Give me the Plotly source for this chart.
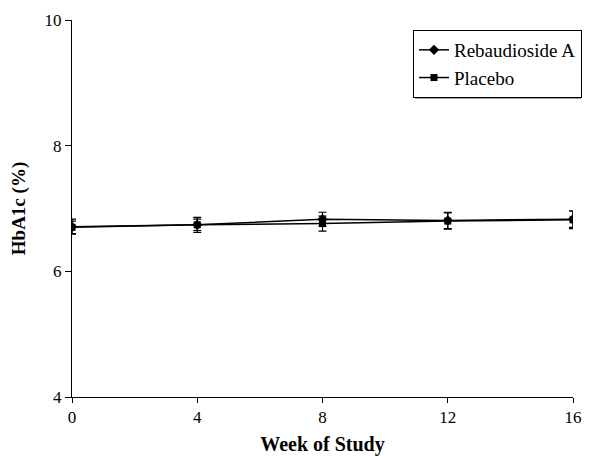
import plotly.graph_objects as go

weeks = [0, 4, 8, 12, 16]
reb_a = [6.71, 6.74, 6.83, 6.81, 6.83]
reb_a_err = [0.12, 0.09, 0.11, 0.13, 0.13]
placebo = [6.70, 6.74, 6.76, 6.80, 6.82]
placebo_err = [0.10, 0.12, 0.12, 0.13, 0.14]

font = "Liberation Serif, Times New Roman, serif"

fig = go.Figure()
fig.add_trace(go.Scatter(
    x=weeks, y=reb_a, name="Rebaudioside A", mode="lines+markers", legendgroup="a",
    line=dict(color="black", width=1.5),
    marker=dict(symbol="diamond", size=8, color="black"),
    error_y=dict(type="data", array=reb_a_err, color="black", thickness=1.2, width=4),
))
fig.add_trace(go.Scatter(
    x=weeks, y=placebo, name="Placebo", mode="lines+markers", legendgroup="b",
    line=dict(color="black", width=1.5),
    marker=dict(symbol="square", size=7, color="black"),
    error_y=dict(type="data", array=placebo_err, color="black", thickness=1.2, width=4),
))

L, R, T, B = 64, 27, 12, 67
pw = 592 - L - R
ph = 456 - T - B

def px(x):
    return (x - L) / pw

def py(y):
    return 1 - (y - T) / ph

# legend drop shadow
fig.add_shape(type="rect", xref="paper", yref="paper",
              x0=px(407), x1=px(573), y0=py(91), y1=py(24),
              fillcolor="#999999", line=dict(width=0), layer="above")

fig.update_layout(
    width=592, height=456,
    margin=dict(l=L, r=R, t=T, b=B, autoexpand=False),
    paper_bgcolor="white", plot_bgcolor="white",
    font=dict(family=font, size=17, color="black"),
    showlegend=True,
    legend=dict(
        x=px(405), y=py(22), xanchor="left", yanchor="top",
        bordercolor="black", borderwidth=1, bgcolor="white",
        font=dict(family=font, size=19, color="black"),
        itemwidth=30, tracegroupgap=0,
    ),
    xaxis=dict(
        range=[0, 16], tickvals=weeks, ticktext=[str(w) for w in weeks],
        showgrid=False, zeroline=False, showline=True, linecolor="black", linewidth=1,
        ticks="outside", ticklen=5, tickcolor="black",
        tickfont=dict(family=font, size=17),
        title=dict(text="<b>Week of Study</b>", font=dict(family=font, size=20), standoff=10),
    ),
    yaxis=dict(
        range=[4, 10], tickvals=[4, 6, 8, 10],
        showgrid=False, zeroline=False, showline=True, linecolor="black", linewidth=1,
        ticks="outside", ticklen=6, tickcolor="black",
        tickfont=dict(family=font, size=17),
        title=dict(text="<b>HbA1c (%)</b>", font=dict(family=font, size=19), standoff=14),
    ),
)

fig.write_html("out.html")
